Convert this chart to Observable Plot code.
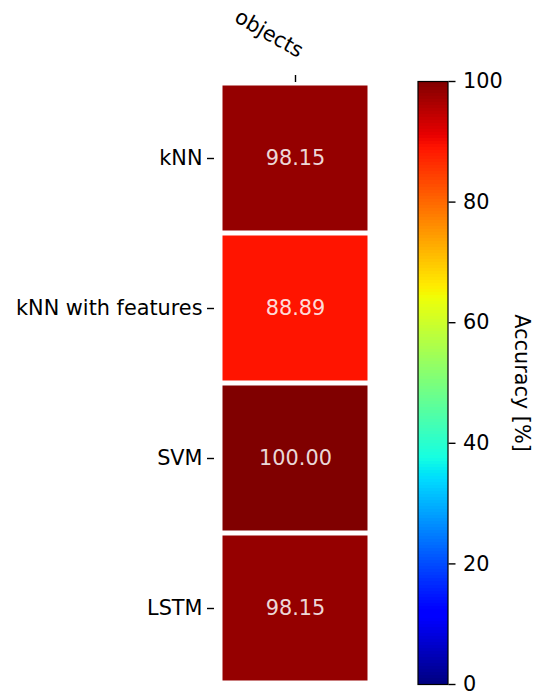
<!DOCTYPE html>
<html>
<head>
<meta charset="utf-8">
<script src="https://cdn.jsdelivr.net/npm/d3@7"></script>
<script src="https://cdn.jsdelivr.net/npm/@observablehq/plot@0.6"></script>
<style>
  html, body { margin: 0; padding: 0; background: #fff; }
  #chart { position: relative; width: 536px; height: 695px; overflow: hidden; font-family: "DejaVu Sans", sans-serif; }
  #chart > svg { position: absolute; top: 0; }
</style>
</head>
<body>
<div id="chart"></div>
<script>
// Classification accuracy per model (single "objects" column)
const models = ["kNN", "kNN with features", "SVM", "LSTM"];
const columns = ["objects"];
const accuracy = [98.15, 88.89, 100.00, 98.15];
const colorbarTicks = [0, 20, 40, 60, 80, 100];
const colorbarLabel = "Accuracy [%]";

const cells = models.map((m, i) => ({model: m, column: columns[0], value: accuracy[i]}));

// Matplotlib "jet" colormap, piecewise linear in each channel
const jetR = [[0, 0], [0.35, 0], [0.66, 1], [0.89, 1], [1, 0.5]];
const jetG = [[0, 0], [0.125, 0], [0.375, 1], [0.64, 1], [0.91, 0], [1, 0]];
const jetB = [[0, 0.5], [0.11, 1], [0.34, 1], [0.65, 0], [1, 0]];
function channel(seg, t) {
  t = Math.max(0, Math.min(1, t));
  for (let i = 1; i < seg.length; i++) {
    const [x0, y0] = seg[i - 1], [x1, y1] = seg[i];
    if (t <= x1) return y0 + (y1 - y0) * (t - x0) / (x1 - x0);
  }
  return seg[seg.length - 1][1];
}
const jet = (t) => d3.rgb(255 * channel(jetR, t), 255 * channel(jetG, t), 255 * channel(jetB, t)).formatHex();
const colorScale = {type: "linear", domain: [0, 100], interpolate: jet};

const FS = 20.8;
const baseStyle = {fontFamily: "DejaVu Sans, sans-serif", fontSize: FS + "px", color: "black", background: "transparent", overflow: "visible"};

// Heatmap
const heat = Plot.plot({
  width: 400,
  height: 695,
  marginLeft: 219.5,
  marginRight: 30.5,
  marginTop: 81,
  marginBottom: 11,
  style: baseStyle,
  x: {type: "band", domain: columns, padding: 0, axis: null},
  y: {type: "band", domain: models, padding: 0, axis: null},
  color: colorScale,
  marks: [
    Plot.cell(cells, {x: "column", y: "model", fill: "value", inset: 2.5}),
    Plot.text(cells, {x: "column", y: "model", text: (d) => d.value.toFixed(2), fill: "white", fillOpacity: 0.86, fontSize: FS}),
    Plot.axisY({anchor: "left", tickSize: 7, tickPadding: 5, dx: -5.5, strokeWidth: 1.4, label: null, fontSize: FS}),
    Plot.axisX({anchor: "top", tickSize: 7, strokeWidth: 1.4, tickFormat: () => "", label: null}),
    Plot.text(columns, {x: (d) => d, frameAnchor: "top", dx: 6, dy: -29, rotate: 30, textAnchor: "end", lineAnchor: "middle", fontSize: FS})
  ]
});
heat.style.left = "0px";

// Colorbar
const steps = d3.range(0, 100, 0.5);
const bar = Plot.plot({
  width: 136,
  height: 695,
  marginLeft: 17.5,
  marginRight: 88.5,
  marginTop: 81,
  marginBottom: 11,
  style: baseStyle,
  y: {domain: [0, 100], axis: null},
  color: colorScale,
  marks: [
    Plot.rect(steps, {y1: (d) => d, y2: (d) => Math.min(100, d + 0.6), fill: (d) => d + 0.25, shapeRendering: "crispEdges"}),
    Plot.frame({stroke: "black", strokeWidth: 1.2}),
    Plot.axisY({anchor: "right", ticks: colorbarTicks, tickSize: 7, tickPadding: 8, strokeWidth: 1.4, label: null, fontSize: FS}),
    Plot.text([colorbarLabel], {frameAnchor: "right", dx: 74, rotate: 90, textAnchor: "middle", lineAnchor: "middle", fontSize: FS})
  ]
});
bar.style.left = "400px";

const chart = document.getElementById("chart");
chart.append(heat, bar);
</script>
</body>
</html>
